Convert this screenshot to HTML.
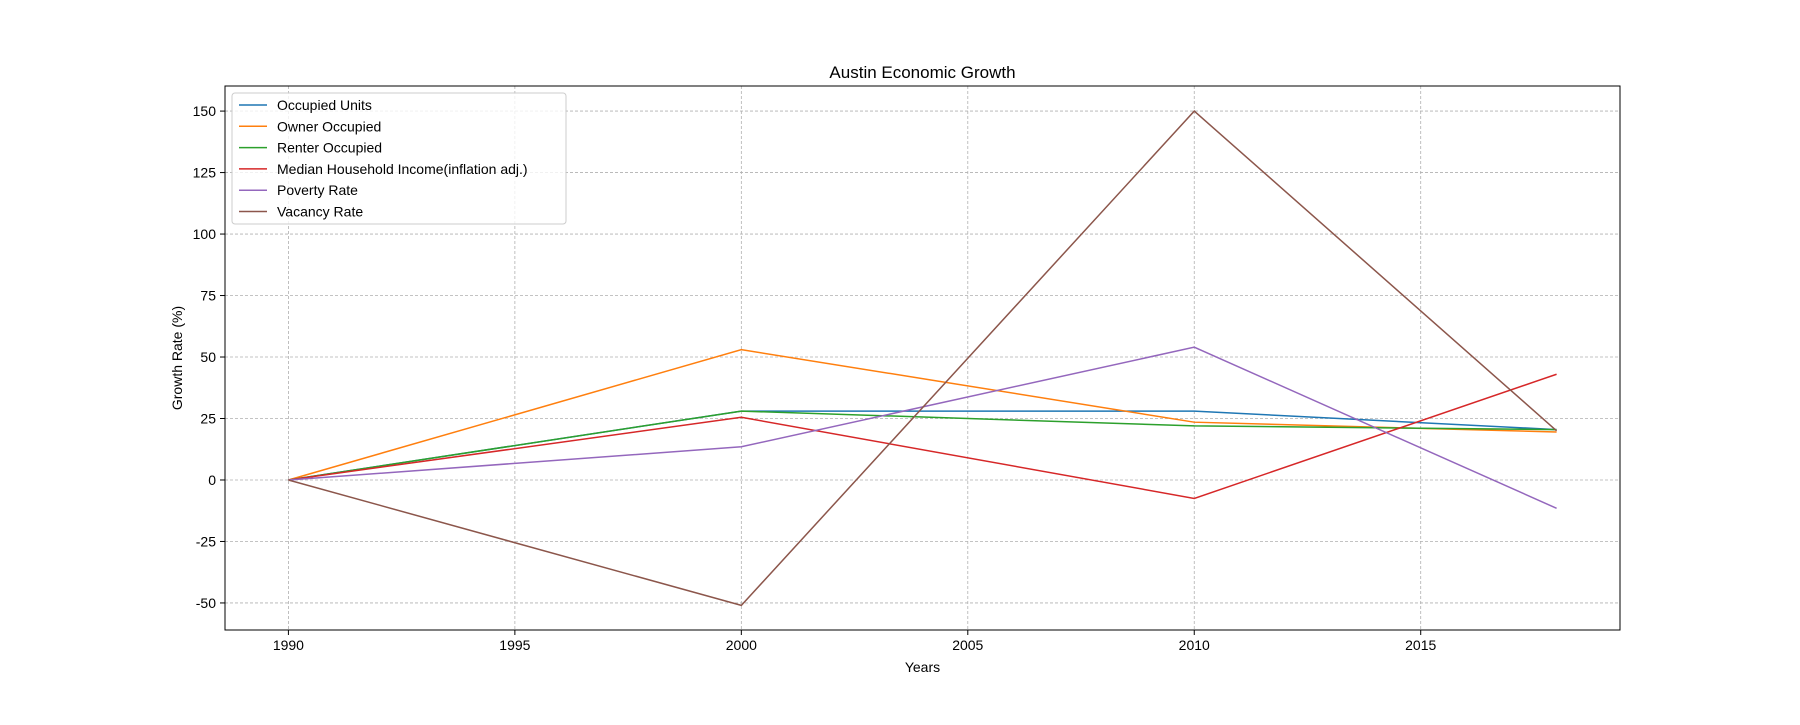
<!DOCTYPE html>
<html><head><meta charset="utf-8"><style>
body{margin:0;background:#fff;font-family:"Liberation Sans","DejaVu Sans",sans-serif;}
svg text{font-family:"Liberation Sans","DejaVu Sans",sans-serif;}
</style></head><body>
<svg id="c" width="1800" height="720" xmlns="http://www.w3.org/2000/svg"></svg>
<script>
const years = [1990, 2000, 2010, 2018];
const occupiedUnits = [0, 28, 28, 20.5];
const ownerOccupied = [0, 53, 23.5, 19.5];
const renterOccupied = [0, 28, 22, 20.5];
const medianIncome = [0, 25.5, -7.5, 43];
const povertyRate = [0, 13.5, 54, -11.5];
const vacancyRate = [0, -51, 150, 20];
const seriesNames = ["Occupied Units","Owner Occupied","Renter Occupied","Median Household Income(inflation adj.)","Poverty Rate","Vacancy Rate"];
const xTicks = [1990, 1995, 2000, 2005, 2010, 2015];
const yTicks = [-50, -25, 0, 25, 50, 75, 100, 125, 150];

const L=225,R=1620,T=86,B=630;
const x0=1988.6,x1=2019.4,y0=-61,y1=160.2;
const X=v=>L+(v-x0)/(x1-x0)*(R-L);
const Y=v=>B-(v-y0)/(y1-y0)*(B-T);
const colors=["#1f77b4","#ff7f0e","#2ca02c","#d62728","#9467bd","#8c564b"];
const allSeries=[occupiedUnits,ownerOccupied,renterOccupied,medianIncome,povertyRate,vacancyRate];
const svg=document.getElementById('c');
const NS="http://www.w3.org/2000/svg";
function mk(tag,attrs,parent){const e=document.createElementNS(NS,tag);for(const k in attrs)e.setAttribute(k,attrs[k]);(parent||svg).appendChild(e);return e;}

xTicks.forEach(t=>{
  const g=mk('line',{x1:X(t),x2:X(t),y1:T,y2:B,stroke:'#b0b0b0','stroke-dasharray':'3,2','stroke-width':0.8});
  
  
  mk('line',{x1:X(t),x2:X(t),y1:B,y2:B+5,stroke:'#000'});
  const tx=mk('text',{x:X(t),y:B+20,'text-anchor':'middle','font-size':14});
  tx.textContent=t;
  
  
});
yTicks.forEach(t=>{
  const g=mk('line',{x1:L,x2:R,y1:Y(t),y2:Y(t),stroke:'#b0b0b0','stroke-dasharray':'3,2','stroke-width':0.8});
  
  
  mk('line',{x1:L-5,x2:L,y1:Y(t),y2:Y(t),stroke:'#000'});
  const tx=mk('text',{x:L-9,y:Y(t)+5,'text-anchor':'end','font-size':14});
  tx.textContent=t;
  
  
});

allSeries.forEach((s,i)=>{
  const p=mk('polyline',{points:s.map((v,j)=>X(years[j])+','+Y(v)).join(' '),fill:'none',stroke:colors[i],'stroke-width':1.5});
  
  
});

const frame=mk('rect',{x:L,y:T,width:R-L,height:B-T,fill:'none',stroke:'#000','stroke-width':1});



const title=mk('text',{x:(L+R)/2,y:T-8,'text-anchor':'middle','font-size':17});
title.textContent='Austin Economic Growth';


const xt=mk('text',{x:(L+R)/2,y:B+42,'text-anchor':'middle','font-size':14});
xt.textContent='Years';


const yt=mk('text',{x:0,y:0,'text-anchor':'middle','font-size':14,transform:`translate(182,${(T+B)/2}) rotate(-90)`});
yt.textContent='Growth Rate (%)';



const lg=mk('rect',{x:232,y:93,width:334,height:131,rx:3,fill:'#fff','fill-opacity':0.8,stroke:'#ccc'});


seriesNames.forEach((n,i)=>{
  const yy=105+i*21.3;
  mk('line',{x1:239,x2:267,y1:yy,y2:yy,stroke:colors[i],'stroke-width':1.5});
  const tx=mk('text',{x:277,y:yy+5,'font-size':14});
  tx.textContent=n;
  
  
});
</script>
</body></html>
